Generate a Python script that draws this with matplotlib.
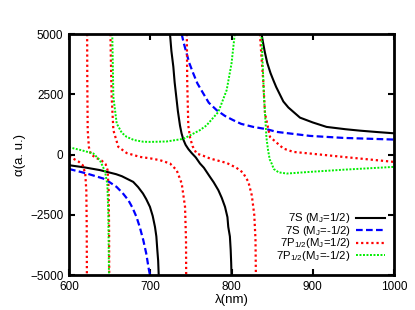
import numpy as np
import matplotlib
matplotlib.use("Agg")
import matplotlib.pyplot as plt

plt.rcParams['font.family'] = ['Liberation Sans', 'DejaVu Sans']
plt.rcParams['mathtext.fontset'] = 'custom'
plt.rcParams['mathtext.rm'] = 'Liberation Sans'
plt.rcParams['mathtext.it'] = 'Liberation Sans'

nan = np.nan
# 7S (MJ=1/2)
s_up_x = [600, 620, 638, 658, 665, 679, 685, 691, 695, 699.6, 703, 705.8, 707.5, 708.7, 709.7, 710.4, nan,
          724.3, 726, 728.4, 730, 732.5, 734, 736.6, 738.5, 740.7, 743.5, 747, 751, 756, 761.2, 766, 773.5,
          778, 783.8, 788, 792, 795, 796, 798, 799, 799.6, 800, nan,
          837, 838.5, 841, 844, 848, 851.5, 855, 863.8, 870, 884.3, 900, 917, 940, 958, 980, 1000]
s_up_y = [-444, -540, -647, -817, -900, -1136, -1350, -1617, -1850, -2172, -2550, -3002, -3400, -3968, -4400, -5000, nan,
          5000, 4300, 3640, 3000, 2250, 1800, 1200, 880, 620, 400, 220, 60, -120, -373, -550, -929,
          -1150, -1480, -1800, -2172, -2600, -3002, -3400, -3968, -4500, -5000, nan,
          5000, 4700, 4250, 3800, 3380, 3083, 2800, 2200, 1950, 1530, 1330, 1145, 1050, 990, 930, 880]
# 7S (MJ=-1/2)
s_dn_x = [600, 621.8, 642, 650, 658.5, 666, 673, 678, 683, 687, 691.4, 695, 698.4, 699.7, nan,
          738.7, 741, 744.8, 748, 753, 758, 765.3, 772, 781.8, 792, 802.2, 812, 826.8, 843.3, 855.6,
          896.6, 937.6, 1000]
s_dn_y = [-600, -788, -995, -1150, -1343, -1600, -1895, -2200, -2587, -3000, -3553, -4100, -4798, -5000, nan,
          5000, 4650, 4188, 3800, 3359, 2950, 2530, 2150, 1838, 1600, 1423, 1270, 1145, 1050, 938,
          772, 689, 620]
# 7P1/2 (MJ=1/2)
p_up_x = [600, 605, 612, 617, 620, 621.3, 621.8, 622, nan,
          622.3, 622.5, 623, 624.5, 627, 634, 640, 645, 647.5, 648.8, 649.3, 649.5, nan,
          651, 651.5, 652.5, 654.6, 660.7, 671, 687.4, 700, 712, 724.3, 732.5, 738.7, 742.8, 744, 744.2, nan,
          745, 745.5, 746.8, 749, 752, 757, 765, 773.5, 794, 806, 814, 820.7, 825, 828, 829.5, 830, nan,
          835, 837, 839, 841.2, 847.4, 863.8, 876, 896.6, 937.6, 1000]
p_up_y = [-80, -166, -300, -450, -800, -1500, -3000, -5000, nan,
          5000, 3000, 1000, 300, 0, -150, -250, -400, -650, -1500, -3000, -5000, nan,
          5000, 4000, 2388, 1008, 315, 60, -100, -160, -236, -373, -651, -1203, -2172, -3553, -5000, nan,
          5000, 3000, 1200, 700, 350, 41, -50, -166, -350, -550, -750, -1130, -1700, -2500, -3500, -5000, nan,
          5000, 4000, 3083, 1700, 730, 249, 108, 41, -100, -307]
# 7P1/2 (MJ=-1/2)
p_dn_x = [600, 615, 630, 638, 644.3, 647.2, 648.4, 649.2, nan,
          652.5, 653.3, 654.6, 658.7, 665, 671, 680, 691.4, 700, 720, 740.7, 761, 769, 783.8, 794, 800, 804, nan,
          835, 837, 840, 843, 845, 847, 849.4, 852, 858, 868, 897, 938, 1000]
p_dn_y = [300, 180, 40, -236, -700, -1250, -2500, -5000, nan,
          5000, 4875, 2388, 1285, 900, 730, 600, 530, 523, 540, 650, 1008, 1200, 1767, 2668, 3773, 5000, nan,
          5000, 4875, 2388, 700, 180, -200, -373, -600, -740, -790, -720, -630, -514]

labels = ['7S (M$_\\mathrm{J}$=1/2)', '7S (M$_\\mathrm{J}$=-1/2)',
          '7P$_{1/2}$(M$_\\mathrm{J}$=1/2)', '7P$_{1/2}$(M$_\\mathrm{J}$=-1/2)']
xticks = [600, 700, 800, 900, 1000]
yticks = [-5000, -2500, 0, 2500, 5000]

fig = plt.figure(figsize=(4.15, 3.10), dpi=100)
ax = fig.add_axes([0.1663, 0.1129, 0.7831, 0.7774])

styles = [dict(color='black', lw=1.5, ls='-'),
          dict(color='#0000ff', lw=1.6, ls=(0, (3, 1.5))),
          dict(color='#ff0000', lw=1.6, ls=(0, (1, 1.3))),
          dict(color='#00ee00', lw=1.4, ls=(0, (1, 0.8)))]
series = [(s_up_x, s_up_y), (s_dn_x, s_dn_y), (p_up_x, p_up_y), (p_dn_x, p_dn_y)]
for (xs, ys), st in zip(series, styles):
    ax.plot(xs, ys, **st)

ax.set_xlim(600, 1000)
ax.set_ylim(-5000, 5000)
ax.set_xticks(xticks)
ax.set_yticks(yticks)
ax.tick_params(direction='in', length=4, width=1.5, top=True, right=True, labelsize=8.5, pad=4)
for s in ax.spines.values():
    s.set_linewidth(2)
ax.set_xlabel('λ(nm)', fontsize=9.5, labelpad=1)
ax.set_ylabel('α(a. u.)', fontsize=9.5, labelpad=3)

# gnuplot-style key: text right-aligned, sample line to the right
row_y = [0.2364, 0.1850, 0.1336, 0.0822]
for lab, st, yy in zip(labels, styles, row_y):
    ax.text(0.8668, yy - 0.0140, lab, transform=ax.transAxes, ha='right', va='baseline',
            fontsize=8.2)
    ax.plot([0.8831, 0.9723], [yy, yy], transform=ax.transAxes, clip_on=False, **st)

fig.savefig('out.png', dpi=100)
